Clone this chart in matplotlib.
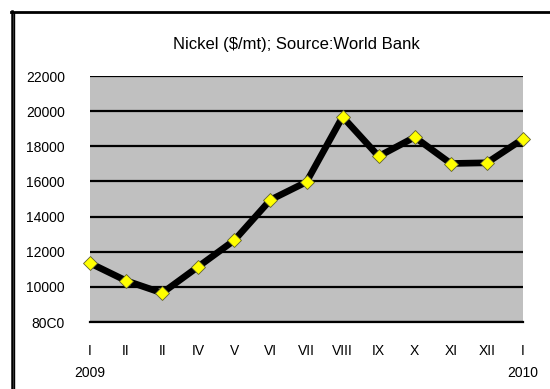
import matplotlib
matplotlib.use("Agg")
import matplotlib.pyplot as plt
from matplotlib.lines import Line2D

months = ["I", "II", "II", "IV", "V", "VI", "VII", "VIII", "IX", "X", "XI", "XII", "I"]
years = ["2009", "", "", "", "", "", "", "", "", "", "", "", "2010"]
nickel = [11350, 10350, 9650, 11150, 12650, 14950, 15970, 19680, 17430, 18520, 17020, 17060, 18420]
yticks = [8000, 10000, 12000, 14000, 16000, 18000, 20000, 22000]
ytick_labels = ["80C0", "10000", "12000", "14000", "16000", "18000", "20000", "22000"]

plt.rcParams['font.family'] = ['Liberation Sans', 'DejaVu Sans']

fig = plt.figure(figsize=(5.5, 3.89), dpi=100)
fig.patch.set_facecolor("white")
ax = fig.add_axes([90/550, 1-322/389, (523-90)/550, (322-76)/389])
ax.set_facecolor("#c0c0c0")

x = list(range(len(nickel)))
ax.plot(x, nickel, color="black", lw=4.8, solid_joinstyle="round", zorder=3, clip_on=False)
ax.plot(x, nickel, linestyle="none", marker="D", markersize=7.5, markerfacecolor="#ffff00",
        markeredgecolor="#606030", markeredgewidth=0.6, zorder=4, clip_on=False)

ax.set_xlim(0, 12)
ax.set_ylim(8000, 22000)
ax.set_yticks(yticks)
ax.set_yticklabels(ytick_labels, fontsize=10)
ax.set_xticks(x)
ax.set_xticklabels([m + "\n" + y if y else m for m, y in zip(months, years)], fontsize=10,
                   linespacing=1.75, va="top")
ax.tick_params(axis="both", length=0)
ax.tick_params(axis="y", pad=18)
ax.tick_params(axis="x", pad=16)
ax.grid(axis="y", color="black", lw=1.6)
ax.set_axisbelow(True)
for s in ["left", "right", "top"]:
    ax.spines[s].set_visible(False)
ax.spines["bottom"].set_linewidth(1.6)
ax.spines["bottom"].set_color("black")

fig.text(296/550, 1-44/389, "Nickel ($/mt); Source:World Bank", ha="center", va="center", fontsize=12)

# outer frame (double left line, top line)
fig.add_artist(Line2D([11.5/550, 11.5/550], [1-11/389, 0], color="black", lw=1.8, transform=fig.transFigure))
fig.add_artist(Line2D([14.2/550, 14.2/550], [1-13/389, 0], color="black", lw=1.0, transform=fig.transFigure))
fig.add_artist(Line2D([11/550, 1], [1-12/389, 1-12/389], color="black", lw=2.0, transform=fig.transFigure))

fig.savefig("out.png", dpi=100, facecolor="white")
